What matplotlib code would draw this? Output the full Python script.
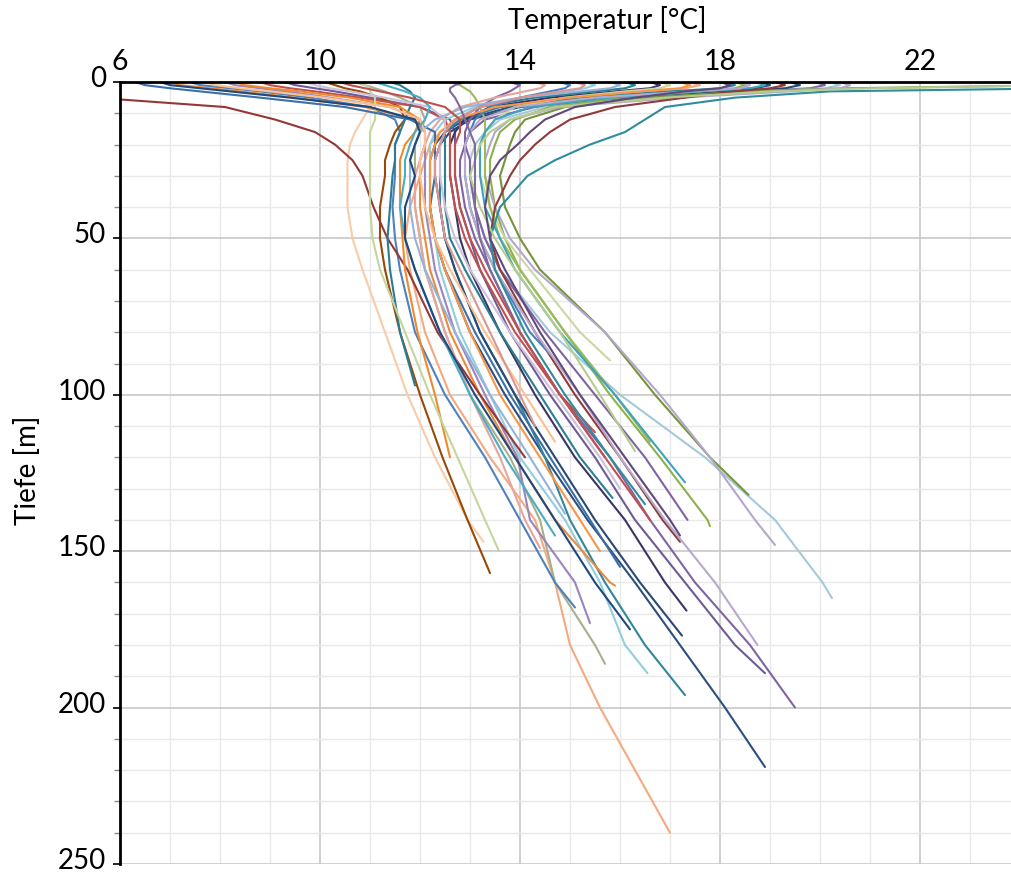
import numpy as np
import matplotlib
matplotlib.use("Agg")
import matplotlib.pyplot as plt
import matplotlib.transforms as mtransforms
from matplotlib.ticker import MultipleLocator

# depth grid [m]; each cast lists its temperatures [°C] on this grid,
# the last value of a cast sits at its own end depth (cast_end_m)
depth_m = [0, 1, 2, 3, 5, 8, 12, 16, 20, 25, 30, 40, 50, 60, 80, 100, 120, 140, 160, 180, 200, 220, 240]

peach_left = [None, None, None, None, 11.1, 11.0, 10.85, 10.7, 10.6, 10.55, 10.55, 10.55, 10.65, 10.85, 11.3, 11.75, 12.3, 12.95, 13.27]
peach_long = [17.4, 17.6, 17.3, 16.5, 15.0, 13.6, 12.8, 12.4, 12.2, 12.1, 12.0, 11.8, 11.7, 11.8, 12.1, 12.6, 13.4, 14.3, 14.7, 15.0, 15.6, 16.3, 17.0]
navy_219 = [18.8, 19.0, 18.7, 17.5, 15.6, 13.8, 12.9, 12.5, 12.3, 12.2, 12.2, 12.2, 12.3, 12.5, 13.0, 13.7, 14.5, 15.35, 16.3, 17.2, 18.1, 18.9]
purple_200 = [19.9, 20.1, 19.8, 18.6, 16.4, 14.3, 13.3, 13.0, 12.9, 12.8, 12.8, 12.9, 13.1, 13.4, 14.0, 14.8, 15.8, 16.6, 17.5, 18.6, 19.5]
purple_189 = [9.3, 9.5, 9.9, 10.3, 11.0, 12.0, 12.6, 12.7, 12.7, 12.7, 12.7, 12.8, 13.0, 13.2, 13.8, 14.6, 15.5, 16.3, 17.3, 18.3, 18.9]
teal_196 = [18.1, 18.3, 18.0, 17.0, 15.2, 13.6, 12.8, 12.5, 12.4, 12.4, 12.4, 12.4, 12.5, 12.7, 13.2, 13.9, 14.5, 15.0, 15.7, 16.5, 17.3]
ltblue_189 = [15.3, 15.5, 15.3, 14.9, 14.0, 13.1, 12.5, 12.3, 12.2, 12.2, 12.2, 12.2, 12.3, 12.4, 12.8, 13.4, 14.0, 14.9, 15.6, 16.1, 16.55]
khaki_186 = [10.7, 10.9, 11.1, 11.3, 11.6, 12.0, 12.1, 12.0, 11.9, 11.9, 11.9, 11.9, 12.0, 12.1, 12.5, 13.0, 13.8, 14.4, 14.7, 15.5, 15.7]
purple_173 = [8.1, 8.3, 8.8, 9.3, 10.2, 11.4, 12.0, 12.1, 12.1, 12.1, 12.1, 12.1, 12.2, 12.3, 12.7, 13.3, 13.95, 14.2, 15.1, 15.4]
blue_168 = [7.4, 7.6, 8.2, 8.8, 9.8, 11.0, 11.5, 11.6, 11.5, 11.5, 11.5, 11.45, 11.5, 11.6, 11.9, 12.5, 13.3, 14.0, 14.7, 15.1]
navy_169 = [16.6, 16.8, 16.6, 15.9, 14.6, 13.4, 12.9, 12.7, 12.6, 12.6, 12.6, 12.7, 12.8, 13.0, 13.6, 14.3, 15.1, 16.1, 16.9, 17.33]
navy_177 = [19.4, 19.6, 19.3, 18.2, 16.1, 14.0, 13.0, 12.6, 12.4, 12.3, 12.3, 12.4, 12.5, 12.7, 13.2, 13.9, 14.7, 15.5, 16.4, 17.24]
brown_157 = [10.1, 10.3, 10.5, 10.8, 11.2, 11.6, 11.7, 11.5, 11.4, 11.3, 11.3, 11.2, 11.2, 11.3, 11.6, 12.0, 12.45, 12.95, 13.4]
ltblue_165 = [20.2, 20.4, 20.1, 18.8, 16.6, 14.5, 13.6, 13.3, 13.1, 13.0, 13.0, 13.1, 13.3, 13.6, 14.6, 16.0, 17.7, 19.1, 20.05, 20.24]
orange_161 = [7.0, 7.2, 7.8, 8.4, 9.5, 10.9, 11.9, 12.1, 12.1, 12.0, 12.0, 12.0, 12.1, 12.2, 12.6, 13.2, 13.9, 14.7, 15.8, 15.9]
olive_132 = [None, 25.0, 20.6, 18.5, 16.6, 14.9, 14.1, 13.9, 13.8, 13.7, 13.6, 13.7, 14.0, 14.4, 15.7, 16.7, 17.8, 18.57]
green_142 = [18.3, 18.5, 18.3, 17.6, 16.0, 14.6, 13.9, 13.6, 13.5, 13.4, 13.4, 13.5, 13.7, 14.0, 14.9, 15.8, 16.8, 17.75, 17.8]
lavender_148 = [20.4, 20.6, 20.4, 19.4, 17.2, 14.8, 13.8, 13.5, 13.4, 13.3, 13.3, 13.5, 13.8, 14.3, 15.7, 16.8, 17.8, 18.7, 19.1]
khaki_89 = [16.8, 17.0, 16.8, 16.1, 14.9, 13.9, 13.5, 13.3, 13.2, 13.2, 13.2, 13.4, 13.7, 14.2, 15.2, 15.8]
green_115 = [12.6, 12.8, 12.9, 13.0, 13.1, 13.2, 13.3, 13.3, 13.3, 13.3, 13.3, 13.4, 13.6, 14.0, 14.9, 15.9, 16.6]
teal_128 = [18.7, 18.9, 18.6, 17.6, 15.8, 14.2, 13.5, 13.3, 13.2, 13.2, 13.2, 13.3, 13.6, 13.9, 14.8, 15.9, 16.9, 17.3]
purple_140 = [13.8, 14.0, 13.9, 13.8, 13.5, 13.2, 13.0, 12.9, 12.9, 13.0, 13.0, 13.1, 13.3, 13.6, 14.5, 15.5, 16.5, 17.35]
maroon_120 = [None, None, None, None, 5.5, 8.1, 9.1, 9.9, 10.3, 10.65, 10.85, 11.07, 11.35, 11.75, 12.35, 13.2, 14.1]
red_147 = [19.1, 19.3, 19.0, 18.3, 17.3, 15.9, 15.0, 14.6, 14.3, 14.0, 13.8, 13.5, 13.4, 13.6, 14.3, 15.1, 16.0, 16.85, 17.2]
red_112 = [8.8, 9.0, 9.4, 9.9, 10.8, 12.0, 12.5, 12.6, 12.6, 12.6, 12.6, 12.7, 12.9, 13.2, 13.9, 14.8, 15.5]
dkteal_133 = [16.1, 16.3, 16.1, 15.5, 14.3, 13.2, 12.7, 12.5, 12.5, 12.5, 12.5, 12.5, 12.6, 12.9, 13.6, 14.4, 15.2, 15.85]
blue_87 = [14.8, 15.0, 14.9, 14.6, 14.0, 13.4, 13.1, 13.0, 12.9, 12.9, 12.9, 13.0, 13.2, 13.5, 14.2, 14.6]
teal_97 = [11.4, 11.6, 11.7, 11.8, 11.9, 11.8, 11.7, 11.6, 11.5, 11.5, 11.45, 11.4, 11.35, 11.4, 11.6, 11.9]
orange_120 = [8.3, 8.5, 9.0, 9.6, 10.6, 11.6, 12.0, 11.9, 11.7, 11.6, 11.6, 11.6, 11.65, 11.7, 11.95, 12.3, 12.6]
ltgreen_150 = [10.8, 10.9, 11.0, 11.0, 11.1, 11.1, 11.1, 11.0, 11.0, 11.0, 11.0, 11.0, 11.05, 11.2, 11.7, 12.2, 12.75, 13.3, 13.58]
salmon_149 = [14.3, 14.5, 14.4, 14.1, 13.5, 12.8, 12.4, 12.2, 12.1, 12.0, 11.9, 11.9, 12.0, 12.1, 12.5, 13.0, 13.6, 14.1, 14.4]
lavender_180 = [18.4, 18.6, 18.4, 17.4, 15.5, 13.9, 13.2, 13.0, 12.9, 12.9, 12.9, 13.0, 13.2, 13.5, 14.3, 15.2, 16.0, 16.9, 17.9, 18.75]
blue_155 = [6.3, 6.5, 7.0, 7.6, 8.8, 10.5, 11.8, 12.3, 12.3, 12.3, 12.3, 12.2, 12.3, 12.5, 13.1, 13.8, 14.6, 15.4, 16.0]
teal_135 = [None, None, 25.0, 20.2, 18.3, 16.9, 16.5, 16.1, 15.4, 14.7, 14.15, 13.6, 13.4, 13.5, 14.1, 14.9, 15.8, 16.5]
orange_150 = [17.2, 17.4, 17.2, 16.4, 15.0, 13.5, 12.7, 12.4, 12.3, 12.2, 12.2, 12.2, 12.3, 12.5, 13.0, 13.6, 14.4, 15.2, 15.6]
lilac_130 = [9.7, 9.9, 10.2, 10.6, 11.3, 12.2, 12.5, 12.5, 12.4, 12.4, 12.4, 12.5, 12.7, 13.0, 13.8, 14.7, 15.6, 16.0]
slate_138 = [15.8, 16.0, 15.8, 15.2, 14.0, 12.9, 12.3, 12.0, 11.9, 11.8, 11.8, 11.8, 11.9, 12.1, 12.7, 13.4, 14.2, 14.9]
apricot_115 = [7.7, 7.9, 8.4, 9.0, 10.1, 11.4, 12.0, 12.1, 12.1, 12.0, 12.0, 12.1, 12.3, 12.6, 13.3, 14.1, 14.7]
green_118 = [None, 25.0, 21.0, 19.0, 16.9, 14.7, 13.8, 13.4, 13.2, 13.1, 13.0, 13.2, 13.5, 13.9, 14.8, 15.6, 16.3]
teal_145 = [11.1, 11.3, 11.5, 11.7, 12.0, 12.2, 12.1, 11.9, 11.8, 11.7, 11.7, 11.6, 11.7, 11.9, 12.4, 13.0, 13.7, 14.5, 14.7]
dkpurple_145 = [18.0, 18.2, 18.0, 17.3, 16.3, 15.1, 14.5, 14.2, 13.95, 13.6, 13.4, 13.3, 13.4, 13.7, 14.4, 15.2, 16.1, 17.0, 17.2]
navy_175 = [6.8, 7.0, 7.6, 8.2, 9.4, 11.0, 11.9, 12.0, 11.9, 11.8, 11.9, 11.7, 11.7, 11.9, 12.4, 13.1, 13.9, 14.7, 15.5, 16.2]
pink_110 = [15.1, 15.3, 15.2, 14.8, 14.0, 13.2, 12.7, 12.5, 12.4, 12.3, 12.3, 12.4, 12.5, 12.8, 13.4, 14.0, 14.3]
purple_120 = [12.9, 12.7, 12.6, 12.6, 12.7, 12.8, 12.9, 13.0, 13.1, 13.1, 13.1, 13.1, 13.2, 13.4, 14.0, 14.8, 15.7]
red_140 = [10.4, 10.6, 10.9, 11.2, 11.8, 12.5, 12.8, 12.8, 12.7, 12.7, 12.7, 12.8, 13.0, 13.3, 14.0, 14.8, 15.7, 16.6]

casts = [peach_left, peach_long, navy_219, purple_200, purple_189, teal_196, ltblue_189,
         khaki_186, purple_173, blue_168, navy_169, navy_177, brown_157, ltblue_165,
         orange_161, olive_132, green_142, lavender_148, khaki_89, green_115, teal_128,
         purple_140, maroon_120, red_147, red_112, dkteal_133, blue_87, teal_97,
         orange_120, ltgreen_150, salmon_149, lavender_180, blue_155, teal_135,
         orange_150, lilac_130, slate_138, apricot_115, green_118, teal_145,
         dkpurple_145, navy_175, pink_110, purple_120, red_140]
cast_end_m = [147, 240, 219, 200, 189, 196, 189,
              186, 173, 168, 169, 177, 157, 165,
              161, 132, 142, 148, 89, 115, 128,
              140, 120, 147, 112, 133, 87, 97,
              120, 150, 149, 180, 155, 135,
              150, 130, 138, 115, 118, 145,
              145, 175, 110, 120, 140]

cast_colors = ["#F9CBA7", "#F4A97F", "#2D4F7C", "#8064A2", "#6E5A96", "#31859C", "#93CDDD",
               "#A8B08A", "#9A85BE", "#4F81BD", "#3B3566", "#2A4A73", "#984807", "#A5C8DA",
               "#E98A3C", "#77933C", "#8DB04F", "#B3A8CB", "#C9D7A5", "#9BBB59", "#3EA3BE",
               "#8064A2", "#953735", "#8E3B39", "#C0504D", "#2D7E8F", "#4A7EBB", "#2B7C92",
               "#F08A2E", "#C3D69B", "#E6A59C", "#B6A9CC", "#3C6FA8", "#2E8C9E",
               "#F79646", "#CCC1DA", "#95B3D7", "#FAC090", "#B5CC8E", "#4BACC6",
               "#5F497A", "#1F497D", "#D99694", "#7F6A9F", "#C0504D"]

plt.rcParams['font.family'] = ['Lato', 'DejaVu Sans']

fig = plt.figure(figsize=(10.12, 8.74), dpi=100)
ax = fig.add_axes([120 / 1012, 10 / 874, 892 / 1012, 782 / 874])

for i, (temps, end, col) in enumerate(zip(casts, cast_end_m, cast_colors)):
    d = [x for x in depth_m if x < end] + [end]
    if len(d) != len(temps):
        raise ValueError("cast %d: %d temps, %d depths" % (i, len(temps), len(d)))
    t = np.array(temps, dtype=float)
    ax.plot(t, d, color=col, lw=1.5, solid_capstyle='round', solid_joinstyle='round', zorder=3)

ax.set_xlim(6, 6 + 892 / 50)
ax.set_ylim(250, 0)

ax.xaxis.tick_top()
ax.set_xticks([6, 10, 14, 18, 22])
ax.xaxis.set_minor_locator(MultipleLocator(1))
ax.set_yticks([0, 50, 100, 150, 200, 250])
ax.yaxis.set_minor_locator(MultipleLocator(10))

ax.grid(which='major', color='#C4C4C4', lw=1.1, zorder=0)
ax.grid(which='minor', color='#E9E9E9', lw=1.0, zorder=0)

ax.tick_params(axis='x', which='both', length=0, pad=5, labelsize=20.5)
ax.tick_params(axis='y', which='major', length=5, width=1.2, pad=5, labelsize=20)
ax.tick_params(axis='y', which='minor', length=4, width=1.0, color='#888888')

# lift the depth labels a little so the lowest one stays inside the figure
lift = mtransforms.ScaledTranslation(0, 4 / 72, fig.dpi_scale_trans)
for lbl in ax.get_yticklabels():
    lbl.set_transform(lbl.get_transform() + lift)

for s in ['right', 'bottom']:
    ax.spines[s].set_visible(False)
for s in ['top', 'left']:
    ax.spines[s].set_linewidth(2.0)
    ax.spines[s].set_zorder(5)

fig.text(607 / 1012, 1 - 20 / 874, "Temperatur [°C]", ha='center', va='center', fontsize=20)
fig.text(28 / 1012, 1 - 470 / 874, "Tiefe [m]", ha='center', va='center', rotation=90, fontsize=20)

fig.savefig("out.png", dpi=100)
